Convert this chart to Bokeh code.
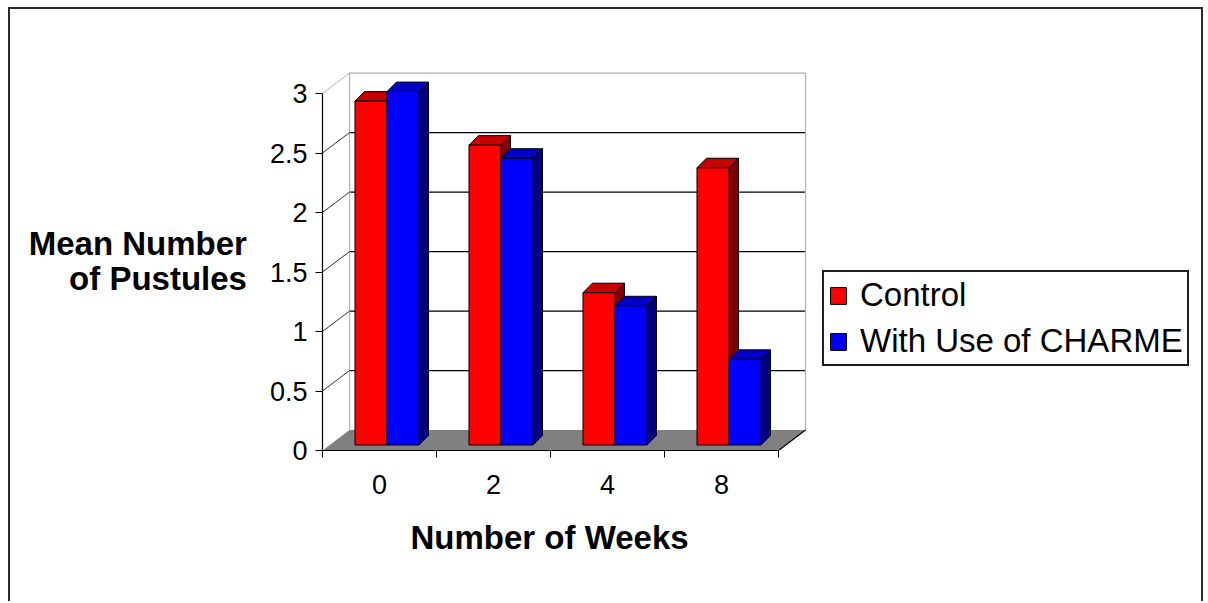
from bokeh.plotting import figure
from bokeh.models import (Range1d, LinearAxis, FixedTicker, NumeralTickFormatter,
                          Legend, LegendItem, Title)
from bokeh.embed import file_html
from bokeh.resources import INLINE

# ---- data -------------------------------------------------------------
weeks = ["0", "2", "4", "8"]
control = [2.89, 2.52, 1.28, 2.33]
charme = [2.97, 2.41, 1.17, 0.72]
y_ticks = [0, 0.5, 1, 1.5, 2, 2.5, 3]
series_names = ["Control", "With Use of CHARME"]

# ---- styling / projection constants ----------------------------------
FONT = "Liberation Sans"
N = len(weeks)
Y_MAX = y_ticks[-1]

WALL_DX, WALL_DY = 0.237, 0.172     # depth of the back wall
BAR_DX, BAR_DY = 0.066, 0.046       # plane in which the bars stand
DEPTH_DX, DEPTH_DY = 0.083, 0.080   # thickness of each bar
BAR_W = 0.281

RED, RED_TOP, RED_SIDE = "#ff0000", "#c80000", "#800000"
BLUE, BLUE_TOP, BLUE_SIDE = "#0000ff", "#0000c8", "#000080"

# the frame reaches to the right edge so the legend can sit inside it;
# axis bounds keep the drawn axes to the category span
p = figure(width=1195, height=594, output_backend="svg", toolbar_location=None,
           x_range=Range1d(0, 7.728), y_range=Range1d(0, 3.185),
           min_border_left=312, min_border_right=2,
           min_border_top=62, min_border_bottom=153,
           x_axis_type=None, y_axis_type=None,
           margin=(7, 0, 0, 8),
           styles={"border-top": "2px solid #2b2b2b",
                   "border-left": "2px solid #2b2b2b",
                   "border-right": "2px solid #2b2b2b"})
p.xgrid.visible = False
p.ygrid.visible = False
p.outline_line_color = None
p.background_fill_color = "white"
p.border_fill_color = "white"

# ---- back wall --------------------------------------------------------
inner = [v for v in y_ticks if 0 < v < Y_MAX]
p.multi_line(xs=[[WALL_DX, N + WALL_DX] for _ in inner],
             ys=[[v + WALL_DY, v + WALL_DY] for v in inner],
             line_color="black", line_width=1.2)
p.line(x=[WALL_DX, WALL_DX, N + WALL_DX, N + WALL_DX],
       y=[WALL_DY, Y_MAX + WALL_DY, Y_MAX + WALL_DY, WALL_DY],
       line_color="#b0b0b0", line_width=1.2)

# side-wall depth lines from each front tick
p.multi_line(xs=[[0, WALL_DX] for _ in inner],
             ys=[[v, v + WALL_DY] for v in inner],
             line_color="#303030", line_width=1)
p.line(x=[0, WALL_DX], y=[Y_MAX, Y_MAX + WALL_DY], line_color="#b0b0b0", line_width=1)

# ---- floor ------------------------------------------------------------
p.patch(x=[0, N, N + WALL_DX, WALL_DX], y=[0, 0, WALL_DY, WALL_DY],
        fill_color="#808080", line_color=None)
p.line(x=[N, N + WALL_DX], y=[0, WALL_DY], line_color="black", line_width=1.2)


# ---- bars -------------------------------------------------------------
def draw_series(vals, shift, front, top, side):
    lefts = [i + 0.5 + BAR_DX + shift for i in range(N)]
    rights = [l + BAR_W for l in lefts]
    tops = [BAR_DY + v for v in vals]
    side_xs = [[r, r + DEPTH_DX, r + DEPTH_DX, r] for r in rights]
    side_ys = [[BAR_DY, BAR_DY + DEPTH_DY, t + DEPTH_DY, t] for t in tops]
    p.patches(xs=side_xs, ys=side_ys, fill_color=side, line_color="black", line_width=1)
    top_xs = [[l, r, r + DEPTH_DX, l + DEPTH_DX] for l, r in zip(lefts, rights)]
    top_ys = [[t, t, t + DEPTH_DY, t + DEPTH_DY] for t in tops]
    p.patches(xs=top_xs, ys=top_ys, fill_color=top, line_color="black", line_width=1)
    return p.quad(left=lefts, right=rights, bottom=[BAR_DY] * N, top=tops,
                  fill_color=front, line_color="black", line_width=1)


r_control = draw_series(control, -BAR_W, RED, RED_TOP, RED_SIDE)
r_charme = draw_series(charme, 0.0, BLUE, BLUE_TOP, BLUE_SIDE)

# ---- axes -------------------------------------------------------------
yaxis = LinearAxis(ticker=FixedTicker(ticks=y_ticks, minor_ticks=[]),
                   formatter=NumeralTickFormatter(format="0.[0]"),
                   bounds=(0, Y_MAX))
yaxis.axis_line_color = "black"
yaxis.axis_line_width = 1.2
yaxis.major_tick_out = 7
yaxis.major_tick_in = 0
yaxis.major_tick_line_color = "black"
yaxis.major_label_standoff = 8
yaxis.major_label_text_font = FONT
yaxis.major_label_text_font_size = "27px"
yaxis.major_label_text_color = "black"
yaxis.axis_label = "Mean Number\nof Pustules"
yaxis.axis_label_text_font = FONT
yaxis.axis_label_text_font_style = "bold"
yaxis.axis_label_text_font_size = "33px"
yaxis.axis_label_text_color = "black"
yaxis.axis_label_text_align = "center"
yaxis.axis_label_text_line_height = 0.95
yaxis.axis_label_standoff = 20
if "axis_label_orientation" in yaxis.properties():
    yaxis.axis_label_orientation = "horizontal"
p.add_layout(yaxis, "left")

centers = [i + 0.5 for i in range(N)]
xaxis = LinearAxis(ticker=FixedTicker(ticks=centers, minor_ticks=list(range(N + 1))),
                   bounds=(0, N))
xaxis.major_label_overrides = {c: w for c, w in zip(centers, weeks)}
xaxis.axis_line_color = "black"
xaxis.axis_line_width = 1.2
xaxis.major_tick_out = 0
xaxis.major_tick_in = 0
xaxis.minor_tick_out = 7
xaxis.minor_tick_in = 0
xaxis.minor_tick_line_color = "black"
xaxis.major_label_standoff = 17
xaxis.major_label_text_font = FONT
xaxis.major_label_text_font_size = "27px"
xaxis.major_label_text_color = "black"
p.add_layout(xaxis, "below")

# x-axis title, centred under the category span rather than the whole frame
p.add_layout(Title(text="Number of Weeks", align="left", offset=88,
                   text_font=FONT, text_font_style="bold", text_font_size="33px",
                   text_color="black", standoff=40), "below")

# ---- legend -----------------------------------------------------------
legend = Legend(items=[LegendItem(label=series_names[0], renderers=[r_control]),
                       LegendItem(label=series_names[1], renderers=[r_charme])],
                location=(500, 84))
legend.label_text_font = FONT
legend.label_text_font_size = "33px"
legend.label_text_color = "black"
legend.glyph_width = 20
legend.glyph_height = 21
legend.label_standoff = 12
legend.spacing = 8
legend.padding = 4
legend.margin = 0
legend.border_line_color = "#1e1e1e"
legend.border_line_width = 2
legend.border_line_alpha = 1
legend.background_fill_color = "white"
legend.background_fill_alpha = 1
p.add_layout(legend)

open("out.html", "w").write(file_html(p, INLINE))
